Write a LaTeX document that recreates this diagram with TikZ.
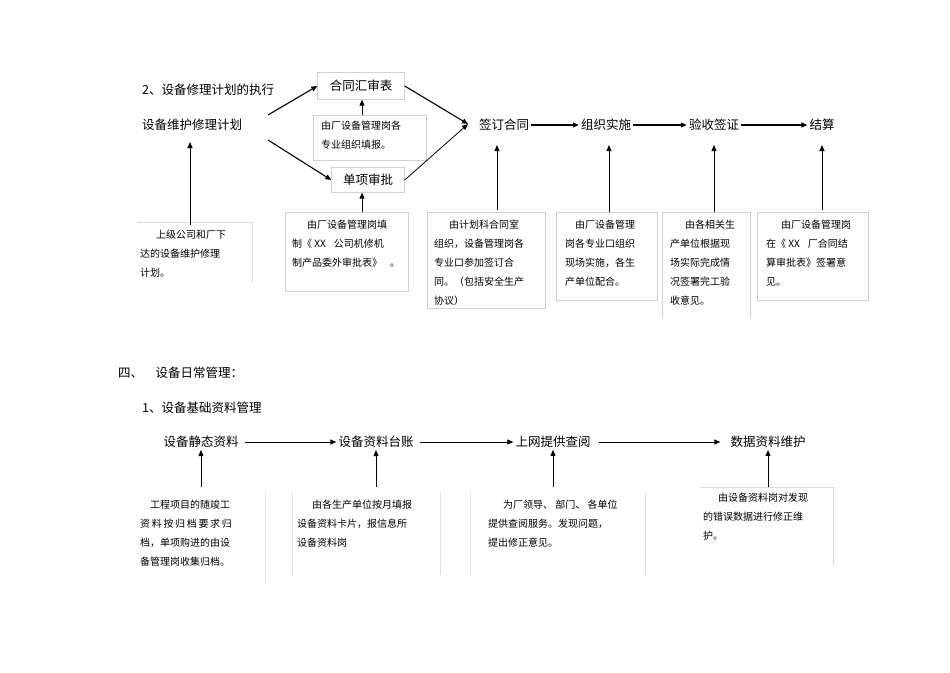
\documentclass[tikz,border=0pt]{standalone}
\usepackage{fontspec}
\setmainfont{Liberation Sans}
\newfontfamily\cjk{Noto Sans CJK SC}
\usetikzlibrary{arrows.meta}
\begin{document}
\begin{tikzpicture}[x=1pt,y=-1pt,
  lab/.style={font=\cjk\fontsize{12.5}{14}\selectfont,inner sep=2pt},
  txt/.style={font=\cjk\fontsize{10}{19}\selectfont,align=left,anchor=north west,inner sep=0pt},
  bx/.style={draw=black!18,line width=0.6pt},
  arr/.style={-{Triangle[length=6pt,width=5pt]},line width=1.1pt},
  farr/.style={-{Triangle[length=6pt,width=5pt]},line width=0.8pt}]
\useasboundingbox (0,0) rectangle (950,672);
% headings
\node[lab,anchor=west] (h2) at (140,90) {2、设备修理计划的执行};
\node[lab,anchor=west] (plan) at (140,125) {设备维护修理计划};
% boxes top
\node[lab,draw=black!18,minimum width=87pt,minimum height=27pt] (hth) at (361,86) {合同汇审表};
\node[lab,draw=black!18,minimum width=73pt,minimum height=25pt] (dx) at (368,180) {单项审批};
\draw[bx] (313,115) rectangle (426,160);
\node[txt] (mt) at (321,121) {由厂设备管理岗各\\专业组织填报。};
\coordinate (mtop) at (362,115);
\node[lab] (qd) at (504,125) {签订合同};
\node[lab] (zz) at (606,125) {组织实施};
\node[lab] (ys) at (714,125) {验收签证};
\node[lab] (js) at (822,125) {结算};
\coordinate (p1) at (268,115);
\coordinate (p2) at (268,140);
\coordinate (qin) at (468,124);
\draw[arr] (p1) -- (hth.west);
\draw[arr] (p2) -- (dx.west);
\draw[arr] (hth.east) -- (qin);
\draw[farr] (dx.east) -- (qin);
\draw[arr] (qd) -- (zz);
\draw[arr] (zz) -- (ys);
\draw[arr] (ys) -- (js);
\draw[farr] (mtop) -- (hth.south -| mtop);
% top boxes
\draw[black!15] (137,222) -- (252,222) -- (252,282);
\node[txt] (t1) at (156,230) {上级公司和厂下};
\node[txt] at (140,249) {达的设备维护修理\\计划。};
\draw[bx] (285,212) rectangle (408,291);
\node[txt] (t2) at (292,220) {\hspace{1.5em}由厂设备管理岗填\\制《 XX\hspace{0.8em}公司机修机\\制产品委外审批表》\hspace{0.8em}。};
\draw[bx] (427,212) rectangle (545,308);
\node[txt] (t3) at (434,220) {\hspace{1.5em}由计划科合同室\\组织，设备管理岗各\\专业口参加签订合\\同。（包括安全生产\\协议）};
\draw[bx] (556,212) rectangle (657,300);
\node[txt] (t4) at (565,220) {\hspace{1em}由厂设备管理\\岗各专业口组织\\现场实施，各生\\产单位配合。};
\draw[bx] (662,318) -- (662,212) -- (750,212) -- (750,318);
\node[txt] (t5) at (670,220) {\hspace{1.5em}由各相关生\\产单位根据现\\场实际完成情\\况签署完工验\\收意见。};
\draw[bx] (757,212) rectangle (868,300);
\node[txt] (t6) at (766,220) {\hspace{1.5em}由厂设备管理岗\\在《 XX\hspace{0.8em}厂合同结\\算审批表》签署意\\见。};
\coordinate (u1) at (190,225);
\coordinate (u2) at (362,212);
\coordinate (u3) at (497,210);
\coordinate (u4) at (609,212);
\coordinate (u5) at (714,212);
\coordinate (u6) at (822,210);
\draw[farr] (u1) -- (190,142);
\draw[farr] (u2) -- (dx.south -| u2);
\draw[farr] (u3) -- (497,145);
\draw[farr] (u4) -- (609,145);
\draw[farr] (u5) -- (714,145);
\draw[farr] (u6) -- (822,145);
% section 4
\node[lab,anchor=west] (s4) at (116,373) {四、\hspace{1em}设备日常管理：};
\node[lab,anchor=west] (s41) at (140,408) {1、设备基础资料管理};
\node[lab] (b1) at (201,442) {设备静态资料};
\node[lab] (b2) at (376,442) {设备资料台账};
\node[lab] (b3) at (553,442) {上网提供查阅};
\node[lab] (b4) at (768,442) {数据资料维护};
\draw[farr] (b1.east) ++(4,0) -- (b2.west);
\draw[farr] (b2.east) ++(4,0) -- (b3.west);
\draw[farr] (b3.east) ++(6,0) -- ([xshift=-8pt]b4.west);
\draw[black!12] (265,493) -- (265,582);
\node[txt] at (140,500) {\hspace{1em}工程项目的随竣工\\资\,料\,按\,归\,档\,要\,求\,归\\档，单项购进的由设\\备管理岗收集归档。};
\draw[black!12] (292,493) -- (292,575) (440,493) -- (440,575);
\node[txt] at (297,500) {\hspace{1.5em}由各生产单位按月填报\\设备资料卡片，报信息所\\设备资料岗};
\draw[black!12] (470,493) -- (470,575) (645,493) -- (645,575);
\node[txt] at (488,500) {\hspace{1.5em}为厂领导、 部门、 各单位\\提供查阅服务。发现问题，\\提出修正意见。};
\draw[black!15] (700,487) -- (833,487) -- (833,565);
\node[txt] at (703,493) {\hspace{1.5em}由设备资料岗对发现\\的错误数据进行修正维\\护。};
\coordinate (v1) at (201,487);
\coordinate (v2) at (376,487);
\coordinate (v3) at (553,487);
\coordinate (v4) at (768,487);
\draw[farr] (v1) -- (b1.south);
\draw[farr] (v2) -- (b2.south);
\draw[farr] (v3) -- (b3.south);
\draw[farr] (v4) -- (b4.south);
\end{tikzpicture}
\end{document}
